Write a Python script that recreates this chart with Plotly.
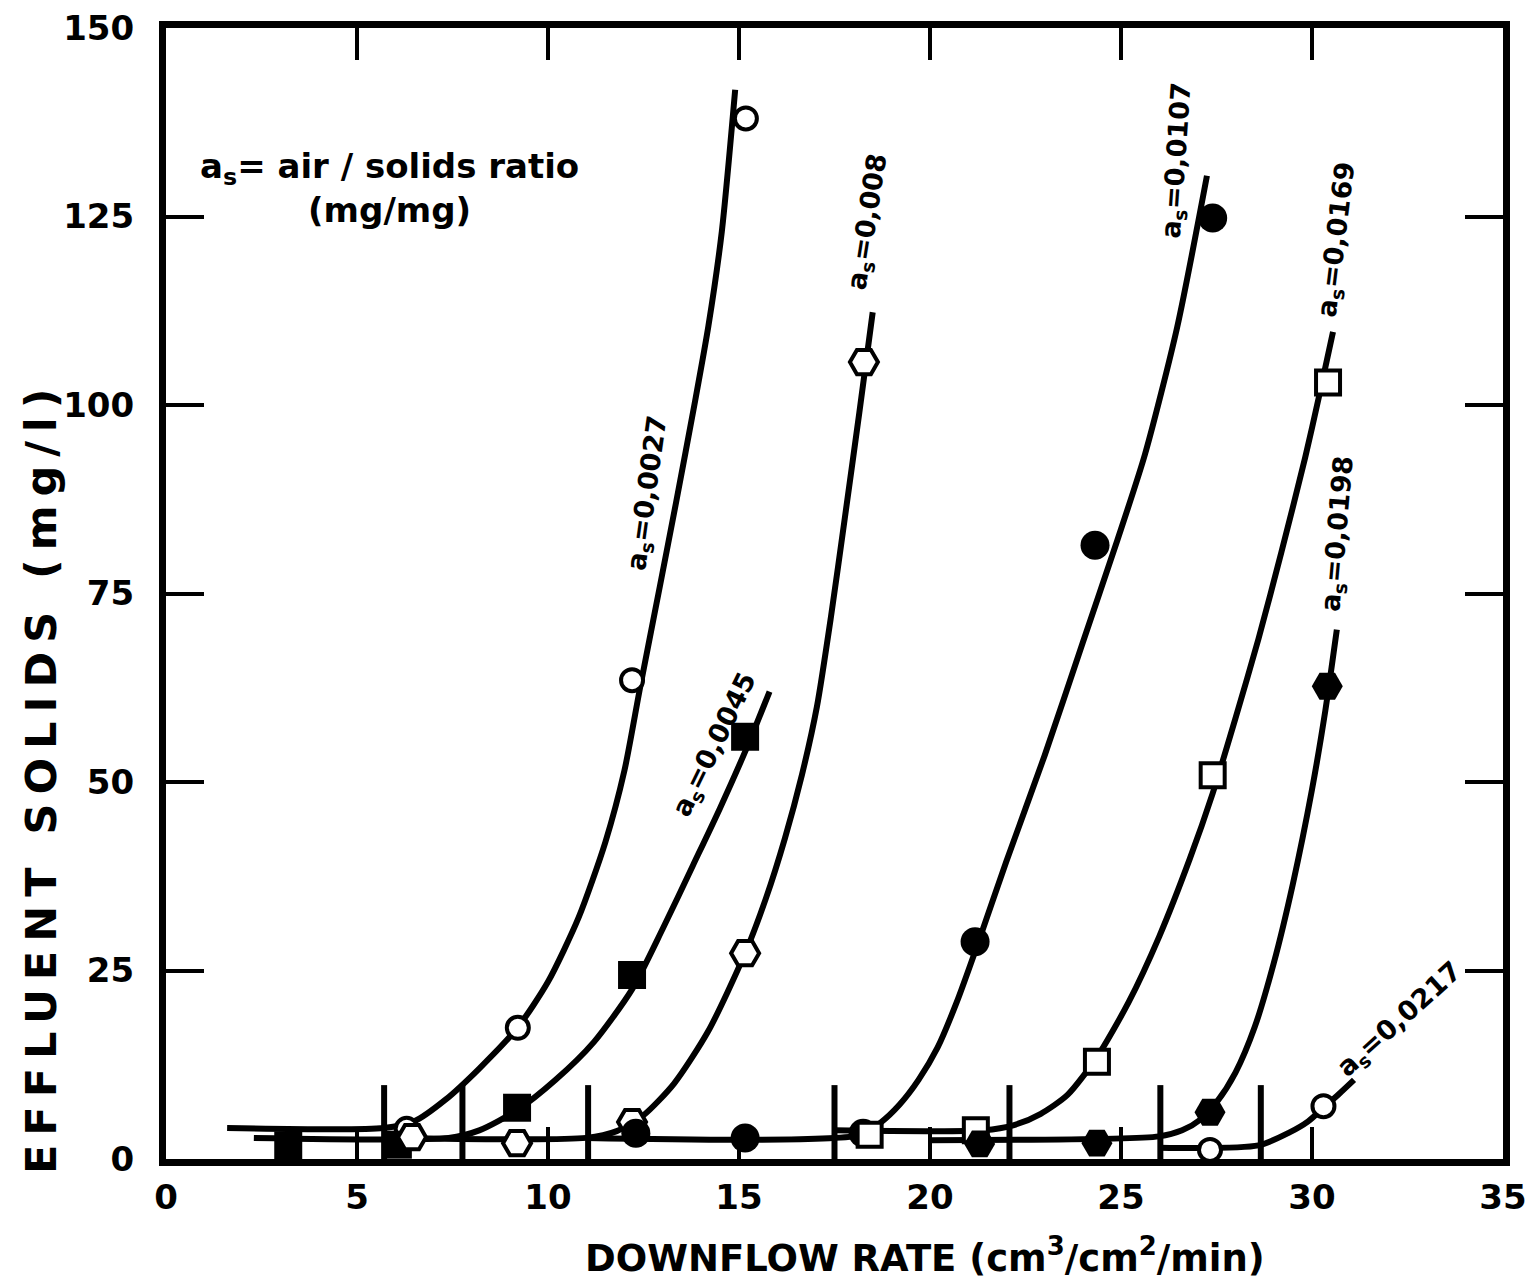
import plotly.graph_objects as go

# ---------------- data ----------------
x_tick_vals = [0, 5, 10, 15, 20, 25, 30, 35]
y_tick_vals = [0, 25, 50, 75, 100, 125, 150]

# fitted curves
c0027_x = [1.6, 5.7, 6.5, 7.3, 8.2, 9.2, 10.0, 10.8, 11.5, 12.0, 12.41, 12.93, 13.35, 13.85, 14.2, 14.55, 14.9]
c0027_y = [4.1, 4.1, 5.0, 7.8, 12.0, 17.4, 23.5, 32.0, 42.0, 51.5, 62.5, 76.0, 87.0, 100.5, 110.5, 123.0, 141.8]

c0045_x = [2.3, 7.4, 8.2, 9.2, 10.2, 11.2, 12.2, 13.0, 13.8, 14.5, 15.2, 15.8]
c0045_y = [2.8, 2.8, 3.8, 6.5, 10.5, 15.5, 22.5, 30.5, 39.0, 46.5, 54.5, 62.0]

c008_x = [6.0, 11.0, 11.8, 12.5, 13.3, 14.2, 15.16, 15.7, 16.2, 16.65, 17.04, 17.41, 17.77, 18.15, 18.5]
c008_y = [2.8, 2.8, 3.7, 5.8, 10.0, 17.0, 27.3, 34.5, 42.5, 51.0, 60.0, 72.0, 85.0, 99.0, 112.3]

c0107_x = [11.0, 18.2, 18.7, 19.2, 19.7, 20.2, 20.7, 21.18, 22.0, 23.0, 24.0, 24.9, 25.63, 26.47, 27.25]
c0107_y = [2.8, 3.2, 4.8, 7.2, 10.5, 14.8, 20.8, 27.5, 39.5, 53.5, 68.5, 82.0, 93.5, 110.3, 130.4]

c0169_x = [17.5, 21.4, 22.2, 22.9, 23.6, 24.37, 25.2, 26.0, 26.8, 27.4, 28.0, 28.6, 29.2, 29.82, 30.2, 30.55]
c0169_y = [3.8, 3.8, 4.5, 6.0, 8.5, 13.5, 20.8, 29.5, 39.8, 48.5, 58.5, 69.0, 80.5, 93.0, 101.5, 109.7]

c0198_x = [20.0, 26.0, 26.6, 27.1, 27.5, 28.0, 28.5, 29.0, 29.5, 30.0, 30.35, 30.65]
c0198_y = [2.5, 3.0, 3.8, 5.3, 7.5, 11.5, 17.5, 26.0, 36.5, 49.0, 59.5, 70.2]

c0217_x = [26.0, 28.6, 29.4, 29.9, 30.3, 30.7, 31.1]
c0217_y = [1.5, 1.8, 3.5, 5.0, 6.8, 8.6, 10.5]

# measured points
p0027_x = [6.3, 9.21, 12.2, 15.18]
p0027_y = [4.0, 17.4, 63.5, 138.0]

p0045_x = [3.2, 6.07, 9.19, 12.2, 15.16]
p0045_y = [1.8, 1.9, 6.8, 24.4, 56.0]

p008_x = [6.44, 9.19, 12.2, 15.16, 18.27]
p008_y = [2.9, 2.1, 4.9, 27.3, 105.7]

p0107_x = [12.3, 15.16, 18.25, 21.18, 24.32, 27.4]
p0107_y = [3.4, 2.8, 3.4, 28.8, 81.4, 124.8]

p0169_x = [18.42, 21.2, 24.37, 27.4, 30.42]
p0169_y = [3.2, 3.8, 12.9, 50.9, 103.0]

p0198_x = [21.3, 24.37, 27.33, 30.4]
p0198_y = [2.0, 2.1, 6.2, 62.7]

p0217_x = [27.33, 30.3]
p0217_y = [1.2, 7.0]

# critical downflow-rate marks
crit_x = [5.71, 7.76, 11.05, 17.5, 22.08, 26.03, 28.66]
crit_top = 9.8

# curve labels
label_text = ["a<sub>s</sub>=0,0027", "a<sub>s</sub>=0,0045", "a<sub>s</sub>=0,008",
              "a<sub>s</sub>=0,0107", "a<sub>s</sub>=0,0169", "a<sub>s</sub>=0,0198",
              "a<sub>s</sub>=0,0217"]
label_x = [12.62, 14.37, 18.4, 26.49, 30.68, 30.71, 32.3]
label_y = [88.3, 54.9, 124.3, 132.4, 121.9, 82.9, 18.4]
label_angle = [-82, -64, -81, -86, -83, -85, -42]

# ---------------- figure ----------------
FONT = "DejaVu Sans"
fig = go.Figure()

curves = [(c0027_x, c0027_y), (c0045_x, c0045_y), (c008_x, c008_y), (c0107_x, c0107_y),
          (c0169_x, c0169_y), (c0198_x, c0198_y), (c0217_x, c0217_y)]
for cx, cy in curves:
    fig.add_trace(go.Scatter(x=cx, y=cy, mode="lines",
                             line=dict(color="black", width=6, shape="spline", smoothing=0.7),
                             showlegend=False, hoverinfo="skip"))

# critical marks
vx, vy = [], []
for c in crit_x:
    vx += [c, c, None]
    vy += [0, crit_top, None]
fig.add_trace(go.Scatter(x=vx, y=vy, mode="lines", line=dict(color="black", width=6),
                         showlegend=False, hoverinfo="skip"))

def pts(px, py, symbol, size, filled):
    fig.add_trace(go.Scatter(
        x=px, y=py, mode="markers", showlegend=False, hoverinfo="skip",
        marker=dict(symbol=symbol, size=size,
                    color="black" if filled else "white",
                    line=dict(color="black", width=0 if filled else 4))))

pts(p0027_x, p0027_y, "circle", 22, False)
pts(p0045_x, p0045_y, "square", 28, True)
pts(p008_x, p008_y, "hexagon2", 28, False)
pts(p0107_x, p0107_y, "circle", 29, True)
pts(p0169_x, p0169_y, "square", 24, False)
pts(p0198_x, p0198_y, "hexagon2", 31, True)
pts(p0217_x, p0217_y, "circle", 22, False)

annotations = []
for t, x, y, a in zip(label_text, label_x, label_y, label_angle):
    annotations.append(dict(x=x, y=y, xref="x", yref="y", text=t, showarrow=False,
                            textangle=a, font=dict(family=FONT, size=27, color="black", weight="bold")))

annotations.append(dict(x=5.86, y=128.8, xref="x", yref="y", xanchor="center", yanchor="middle",
                        text="a<sub>s</sub>= air / solids ratio<br>(mg/mg)", showarrow=False,
                        font=dict(family=FONT, size=34, color="black", weight="bold")))

# axis titles
annotations.append(dict(x=0.568, y=-0.085, xref="paper", yref="paper", xanchor="center", yanchor="middle",
                        text="DOWNFLOW RATE (cm<sup>3</sup>/cm<sup>2</sup>/min)", showarrow=False,
                        font=dict(family=FONT, size=37, color="black", weight="bold")))
annotations.append(dict(x=-0.094, y=0.338, xref="paper", yref="paper", xanchor="center", yanchor="middle",
                        text="EFFLUENT SOLIDS (mg/l)", showarrow=False, textangle=-90,
                        font=dict(family=FONT, size=43, color="black", weight="bold")))

fig.update_layout(
    width=1526, height=1280,
    margin=dict(l=166, r=23, t=28, b=121, autoexpand=False),
    paper_bgcolor="white", plot_bgcolor="white",
    showlegend=False,
    annotations=annotations,
    xaxis=dict(range=[0, 35], tickvals=x_tick_vals, ticktext=[str(v) for v in x_tick_vals],
               automargin=False,
               showgrid=False, zeroline=False, showline=True, linewidth=7, linecolor="black",
               mirror="ticks", ticks="inside", ticklen=32, tickwidth=4, tickcolor="black",
               ticklabelstandoff=2, ticklabeloverflow="allow",
               tickfont=dict(family=FONT, size=34, color="black", weight="bold")),
    yaxis=dict(range=[0, 150], tickvals=y_tick_vals, ticktext=[str(v) for v in y_tick_vals],
               automargin=False,
               showgrid=False, zeroline=False, showline=True, linewidth=7, linecolor="black",
               mirror="ticks", ticks="inside", ticklen=38, tickwidth=4, tickcolor="black",
               ticklabelstandoff=18, ticklabeloverflow="allow",
               tickfont=dict(family=FONT, size=34, color="black", weight="bold")),
)

post = """
document.querySelectorAll('text.annotation-text').forEach(function(t){
  if (t.textContent.indexOf('EFFLUENT') === 0) { t.style.letterSpacing = '9px'; }
});
"""
fig.write_html("out.html", post_script=post)
